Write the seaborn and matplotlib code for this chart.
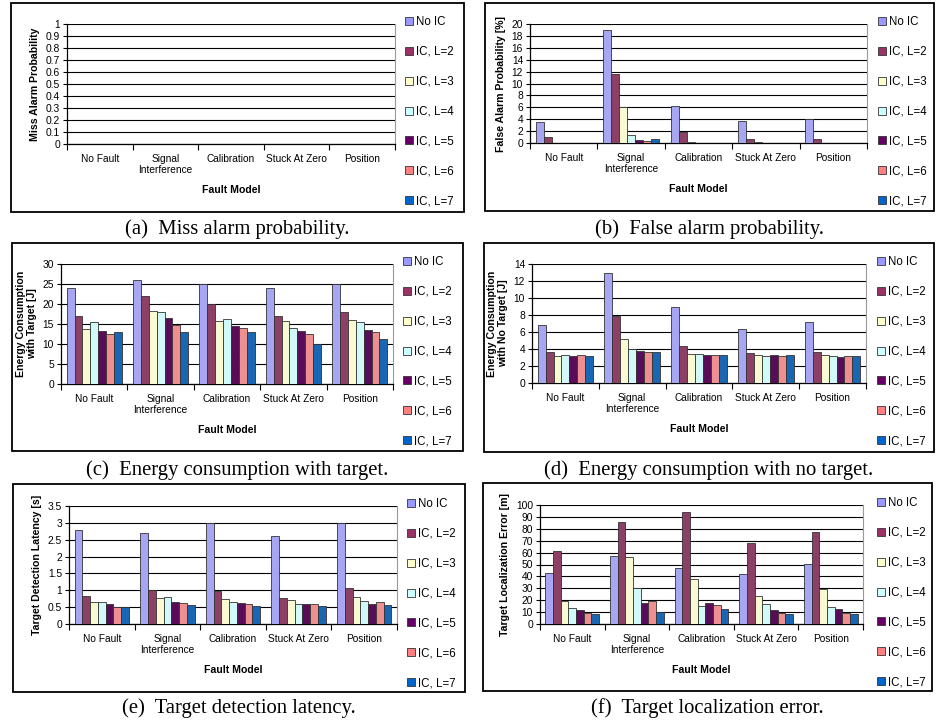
import numpy as np
import pandas as pd
import matplotlib
matplotlib.use("Agg")
import matplotlib.pyplot as plt
import seaborn as sns
from matplotlib.patches import Rectangle, Patch
from matplotlib.ticker import MultipleLocator, FuncFormatter, FixedLocator

# ---------------- data ----------------
categories = ["No Fault", "Signal\nInterference", "Calibration", "Stuck At Zero", "Position"]
series = ["No IC", "IC, L=2", "IC, L=3", "IC, L=4", "IC, L=5", "IC, L=6", "IC, L=7"]
colors = ["#9999FF", "#993366", "#FFFFCC", "#CCFFFF", "#660066", "#FF8080", "#0066CC"]

# rows = categories, columns = series
miss_alarm = [
    [0, 0, 0, 0, 0, 0, 0],
    [0, 0, 0, 0, 0, 0, 0],
    [0, 0, 0, 0, 0, 0, 0],
    [0, 0, 0, 0, 0, 0, 0],
    [0, 0, 0, 0, 0, 0, 0],
]
false_alarm = [
    [3.5, 1.0, 0, 0, 0, 0, 0],
    [19.0, 11.6, 6.1, 1.3, 0.5, 0.4, 0.7],
    [6.2, 1.9, 0.1, 0.05, 0, 0, 0],
    [3.7, 0.6, 0.1, 0, 0, 0, 0],
    [4.0, 0.7, 0, 0, 0, 0, 0],
]
energy_target = [
    [24, 17, 13.8, 15.4, 13.3, 12.6, 13.0],
    [26, 22, 18.2, 17.9, 16.6, 14.8, 13.0],
    [25, 20, 15.8, 16.3, 14.4, 14.0, 13.0],
    [24, 17, 15.8, 13.9, 13.3, 12.4, 10.0],
    [25, 18, 16.0, 15.6, 13.4, 12.9, 11.3],
]
energy_no_target = [
    [6.8, 3.6, 3.2, 3.3, 3.2, 3.3, 3.2],
    [13.0, 7.9, 5.2, 4.0, 3.8, 3.7, 3.6],
    [8.9, 4.4, 3.4, 3.4, 3.3, 3.3, 3.3],
    [6.4, 3.5, 3.3, 3.2, 3.3, 3.2, 3.3],
    [7.2, 3.6, 3.3, 3.2, 3.1, 3.2, 3.2],
]
latency = [
    [2.8, 0.84, 0.65, 0.65, 0.60, 0.50, 0.50],
    [2.7, 1.00, 0.78, 0.80, 0.66, 0.62, 0.55],
    [3.0, 0.97, 0.73, 0.66, 0.63, 0.58, 0.54],
    [2.6, 0.78, 0.72, 0.60, 0.60, 0.60, 0.53],
    [3.0, 1.07, 0.80, 0.68, 0.60, 0.66, 0.56],
]
loc_error = [
    [43, 61, 19.5, 13.5, 11.5, 9, 8],
    [57, 86, 56, 30.5, 17.5, 19, 10.5],
    [47, 94, 37.5, 15.5, 18, 16, 13],
    [42, 68, 23.5, 16.5, 12, 9.5, 8.5],
    [50.5, 77, 29.5, 14, 12.5, 9.5, 8.5],
]

y_labels = ["Miss Alarm Probability", "False Alarm Probability [%]",
            "Energy Consumption\nwith Target [J]", "Energy Consumption\nwith No Target [J]",
            "Target Detection Latency [s]", "Target Localization Error [m]"]
captions = ["(a)  Miss alarm probability.", "(b)  False alarm probability.",
            "(c)  Energy consumption with target.", "(d)  Energy consumption with no target.",
            "(e)  Target detection latency.", "(f)  Target localization error."]
y_max = [1, 20, 30, 14, 3.5, 100]
y_step = [0.1, 2, 5, 2, 0.5, 10]
x_label = "Fault Model"

# ---------------- layout (pixels) ----------------
W, H = 940, 723
sans = ["Liberation Sans", "DejaVu Sans"]
serif = ["Liberation Serif", "DejaVu Serif"]
plt.rcParams["font.family"] = sans

boxes = [(11, 3, 464, 212), (485, 3, 934, 211),
         (12, 243, 463, 451), (484, 243, 934, 452),
         (13, 484, 465, 692), (483, 483, 932, 691)]
axes_px = [(67, 24, 395, 144), (530, 24, 867, 143),
           (61, 264, 393, 384), (532, 264, 866, 383),
           (69, 506, 397, 624), (540, 505, 863, 624)]
legend_x = [405, 878, 403, 877, 407, 877]
caption_y = [229, 229, 470, 470, 708, 708]

datasets = [miss_alarm, false_alarm, energy_target, energy_no_target, latency, loc_error]

fig = plt.figure(figsize=(W / 100, H / 100), dpi=100)
fig.patch.set_facecolor("white")


def frac_rect(x0, y0, x1, y1):
    return [x0 / W, 1 - y1 / H, (x1 - x0) / W, (y1 - y0) / H]


for i, data in enumerate(datasets):
    bx0, by0, bx1, by1 = boxes[i]
    fig.add_artist(Rectangle((bx0 / W, 1 - by1 / H), (bx1 - bx0) / W, (by1 - by0) / H,
                             transform=fig.transFigure, fill=False,
                             edgecolor="black", linewidth=1.3))
    ax = fig.add_axes(frac_rect(*axes_px[i]))
    df = pd.DataFrame([(categories[c], series[s], data[c][s])
                       for c in range(len(categories)) for s in range(len(series))],
                      columns=["cat", "series", "value"])
    sns.barplot(data=df, x="cat", y="value", hue="series", order=categories,
                hue_order=series, palette=colors, errorbar=None, width=0.83,
                edgecolor="#333333", linewidth=0.6, legend=False, ax=ax, zorder=3)
    ax.set_xlim(-0.5, len(categories) - 0.5)
    ax.set_ylim(0, y_max[i])
    ax.yaxis.set_major_locator(MultipleLocator(y_step[i]))
    ax.yaxis.set_major_formatter(FuncFormatter(lambda v, p: f"{v:g}"))
    ax.grid(axis="y", color="black", linewidth=0.8, zorder=0)
    ax.set_axisbelow(True)
    ax.spines["top"].set_visible(False)
    ax.spines["right"].set_color("#999999")
    ax.spines["left"].set_color("black")
    ax.spines["bottom"].set_color("black")
    ax.spines["left"].set_linewidth(0.9)
    ax.spines["bottom"].set_linewidth(0.9)
    ax.tick_params(axis="y", direction="out", length=3, width=0.8, pad=2, labelsize=7.4)
    ax.tick_params(axis="x", which="major", length=0, pad=7, labelsize=7.3)
    ax.xaxis.set_minor_locator(FixedLocator(np.arange(-0.5, len(categories), 1.0)))
    ax.tick_params(axis="x", which="minor", direction="out", length=4, width=0.8)
    ax.set_xticks(range(len(categories)))
    ax.set_xticklabels(categories, linespacing=1.15)
    ax.set_xlabel(x_label, fontsize=7.6, fontweight="bold", labelpad=7)
    ax.set_ylabel(y_labels[i], fontsize=7.6, fontweight="bold", labelpad=4, linespacing=1.1)
    ax.patch.set_alpha(0)

    handles = [Patch(facecolor=c, edgecolor="#333333", linewidth=0.6) for c in colors]
    ax.legend(handles=handles, labels=series, loc="upper left",
              bbox_to_anchor=(legend_x[i] / W, 1 - (axes_px[i][1] - 8) / H),
              bbox_transform=fig.transFigure, frameon=False, fontsize=8.3,
              handlelength=0.7, handleheight=0.7, handletextpad=0.25,
              labelspacing=1.55, borderpad=0, borderaxespad=0)

    fig.text((bx0 + bx1) / 2 / W, 1 - caption_y[i] / H, captions[i], ha="center",
             va="center", fontsize=14.9, family=serif)

fig.savefig("out.png", dpi=100)
